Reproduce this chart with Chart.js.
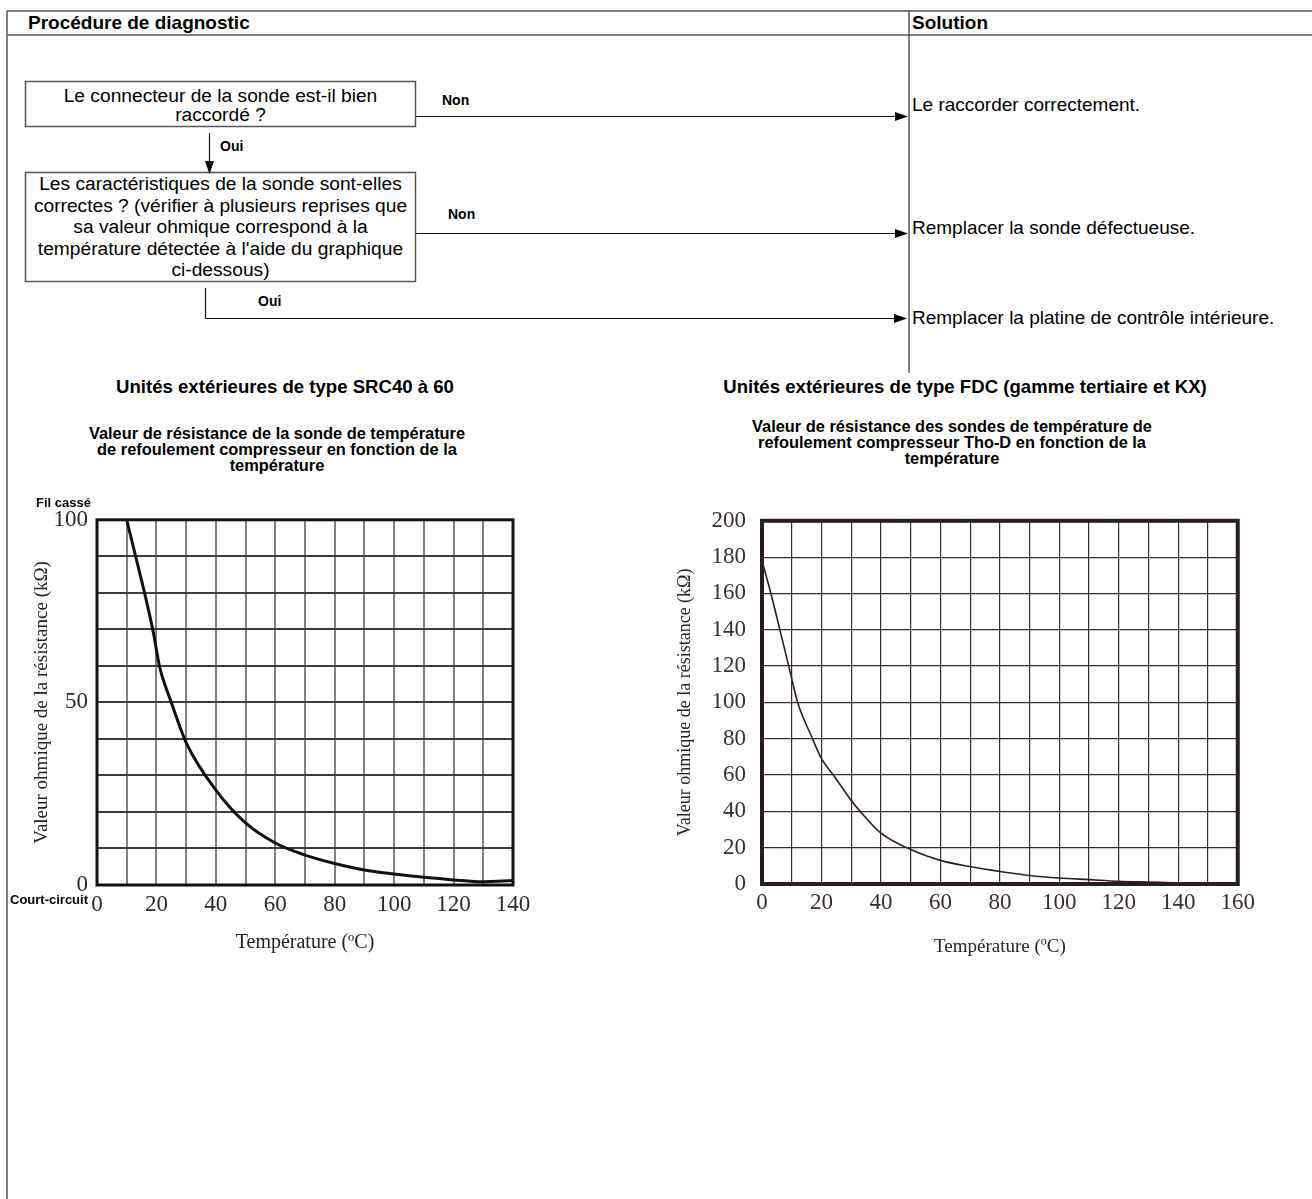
<!DOCTYPE html>
<html lang="fr">
<head>
<meta charset="utf-8">
<title>Procédure de diagnostic - sonde de refoulement</title>
<script src="https://cdn.jsdelivr.net/npm/chart.js@4.4.1/dist/chart.umd.min.js"></script>
<style>
  html, body { margin: 0; padding: 0; background: #fff; }
  body { width: 1312px; height: 1199px; position: relative; overflow: hidden;
         font-family: "Liberation Sans", Arial, sans-serif; color: #000; }
  .t { position: absolute; white-space: nowrap; }
  .reg { font-size: 19px; line-height: 20px; }
  .hdr { font-size: 19px; line-height: 20px; font-weight: bold; }
  .ttl { font-size: 18.6px; line-height: 20px; font-weight: bold; text-align: center; }
  .lbl { font-size: 14px; line-height: 16px; font-weight: bold; }
  .sub { font-size: 16.4px; line-height: 16px; font-weight: bold; text-align: center; }
  .tiny { font-size: 13px; line-height: 15px; font-weight: bold; }
  .box { position: absolute; text-align: center; white-space: nowrap; font-size: 19.2px; }
  canvas { position: absolute; }
</style>
</head>
<body>

<svg width="1312" height="1199" style="position:absolute;left:0;top:0">
  <g stroke="#555" stroke-width="1.5" fill="none">
    <line x1="7" y1="11" x2="1312" y2="11"/>
    <line x1="7" y1="11" x2="7" y2="1199"/>
    <line x1="7" y1="35" x2="1312" y2="35"/>
    <line x1="909" y1="11" x2="909" y2="373"/>
    <rect x="25.5" y="81.5" width="390" height="45"/>
    <rect x="25.5" y="172.5" width="390" height="109"/>
  </g>
  <g stroke="#111" stroke-width="1.2" fill="none">
    <line x1="416" y1="116.5" x2="897" y2="116.5"/>
    <line x1="416" y1="233.5" x2="897" y2="233.5"/>
    <line x1="205.5" y1="288" x2="205.5" y2="318.5"/>
    <line x1="205.5" y1="318.5" x2="896" y2="318.5"/>
    <line x1="209.5" y1="133" x2="209.5" y2="163"/>
  </g>
  <g fill="#000">
    <polygon points="908,116.5 895,112 895,121"/>
    <polygon points="908,233.5 895,229 895,238"/>
    <polygon points="907,318.5 894,314 894,323"/>
    <polygon points="209.5,174 205,161 214,161"/>
  </g>
</svg>

<div class="t hdr" style="left:28px;top:13px">Procédure de diagnostic</div>
<div class="t hdr" style="left:912px;top:13px">Solution</div>

<div class="box" style="left:25px;top:86px;width:391px;line-height:19px">Le connecteur de la sonde est-il bien<br>raccordé ?</div>
<div class="box" style="left:25px;top:173px;width:391px;line-height:21.5px">Les caractéristiques de la sonde sont-elles<br>correctes ? (vérifier à plusieurs reprises que<br>sa valeur ohmique correspond à la<br>température détectée à l'aide du graphique<br>ci-dessous)</div>

<div class="t lbl" style="left:442px;top:92px">Non</div>
<div class="t lbl" style="left:448px;top:206px">Non</div>
<div class="t lbl" style="left:220px;top:138px">Oui</div>
<div class="t lbl" style="left:258px;top:293px">Oui</div>

<div class="t reg" style="left:912px;top:95px">Le raccorder correctement.</div>
<div class="t reg" style="left:912px;top:218px">Remplacer la sonde défectueuse.</div>
<div class="t reg" style="left:912px;top:308px">Remplacer la platine de contrôle intérieure.</div>

<div class="t ttl" style="left:0;width:570px;top:377px">Unités extérieures de type SRC40 à 60</div>
<div class="t ttl" style="left:715px;width:500px;top:377px">Unités extérieures de type FDC (gamme tertiaire et KX)</div>

<div class="t sub" style="left:77px;width:400px;top:425px">Valeur de résistance de la sonde de température<br>de refoulement compresseur en fonction de la<br>température</div>
<div class="t sub" style="left:752px;width:400px;top:418px">Valeur de résistance des sondes de température de<br>refoulement compresseur Tho-D en fonction de la<br>température</div>

<canvas id="srcChart" width="540" height="463" style="left:0;top:497px;width:540px;height:463px"></canvas>
<canvas id="fdcChart" width="600" height="479" style="left:660px;top:491px;width:600px;height:479px"></canvas>

<div class="t tiny" style="left:36px;top:495px">Fil cassé</div>
<div class="t tiny" style="left:10px;top:892px">Court-circuit</div>

<script>
// SRC40 à 60 : résistance (kΩ) en fonction de la température (°C)
const srcTemps = [10, 13, 16, 19, 21, 25, 30, 40, 50, 60, 70, 80, 90, 100, 110, 120, 130, 140];
const srcValues = [100, 90, 80, 69, 60, 50, 39, 26, 17, 11.5, 8.2, 5.9, 4.1, 3.0, 2.1, 1.4, 0.9, 1.2];
const srcTempTicks = [0, 20, 40, 60, 80, 100, 120, 140];
const srcValueTicks = [0, 50, 100];

// FDC (gamme tertiaire et KX) : sonde Tho-D
const fdcTemps = [0, 3, 6, 9, 12, 17, 20, 24, 30, 33, 40, 50, 60, 70, 80, 90, 100, 110, 120, 130, 140, 150];
const fdcValues = [178, 160, 140, 120, 100, 80, 69, 60, 46, 40, 28, 19, 13, 9.6, 6.9, 4.7, 3.3, 2.4, 1.5, 1.1, 0.7, 0.7];
const fdcTempTicks = [0, 20, 40, 60, 80, 100, 120, 140, 160];
const fdcValueTicks = [0, 20, 40, 60, 80, 100, 120, 140, 160, 180, 200];

const serif = '"Liberation Serif", "Times New Roman", serif';

// thick box round the plot area
const frame = {
    id: 'frame',
    afterDraw(chart, args, opts) {
        const { ctx, chartArea: a } = chart;
        ctx.save();
        ctx.strokeStyle = opts.color;
        ctx.lineWidth = opts.width;
        ctx.strokeRect(a.left, a.top, a.right - a.left, a.bottom - a.top);
        ctx.restore();
    }
};

const toPoints = (xs, ys) => xs.map((x, i) => ({ x: x, y: ys[i] }));

new Chart(document.getElementById('srcChart').getContext('2d'), {
    type: 'line',
    data: {
        datasets: [{
            data: toPoints(srcTemps, srcValues),
            borderColor: '#111',
            borderWidth: 3,
            pointRadius: 0,
            fill: false,
            cubicInterpolationMode: 'monotone'
        }]
    },
    options: {
        responsive: false,
        animation: false,
        layout: { padding: { top: 18, right: 27, left: 0, bottom: 0 } },
        plugins: {
            legend: { display: false },
            tooltip: { enabled: false },
            frame: { color: '#111', width: 3 }
        },
        scales: {
            x: {
                type: 'linear',
                min: 0,
                max: 140,
                afterFit: s => { s.height = 75; },
                border: { display: false },
                grid: { color: '#808080', lineWidth: 2, drawTicks: false },
                ticks: {
                    stepSize: 10, autoSkip: false, maxRotation: 0, padding: 6,
                    color: '#2a2a2a', font: { family: serif, size: 23 },
                    callback: v => srcTempTicks.includes(v) ? String(v) : ''
                },
                title: {
                    display: true, text: 'Température (ºC)', color: '#222',
                    font: { family: serif, size: 20 }, padding: { top: 0, bottom: 5 }
                }
            },
            y: {
                min: 0,
                max: 100,
                afterFit: s => { s.width = 97; },
                border: { display: false },
                grid: { color: '#3c3c3c', lineWidth: 2, drawTicks: false },
                ticks: {
                    stepSize: 10, autoSkip: false, padding: 9,
                    color: '#2a2a2a', font: { family: serif, size: 23 },
                    callback: v => srcValueTicks.includes(v) ? String(v) : ''
                },
                title: {
                    display: true, text: 'Valeur ohmique de la résistance (kΩ)', color: '#222',
                    font: { family: serif, size: 19 }, padding: { top: 31, bottom: 0 }
                }
            }
        }
    },
    plugins: [frame]
});

new Chart(document.getElementById('fdcChart').getContext('2d'), {
    type: 'line',
    data: {
        datasets: [{
            data: toPoints(fdcTemps, fdcValues),
            borderColor: '#2a2020',
            borderWidth: 1.6,
            pointRadius: 0,
            fill: false,
            cubicInterpolationMode: 'monotone'
        }]
    },
    options: {
        responsive: false,
        animation: false,
        layout: { padding: { top: 11, right: 18, left: 0, bottom: 0 } },
        plugins: {
            legend: { display: false },
            tooltip: { enabled: false },
            frame: { color: '#2b1d1d', width: 4 }
        },
        scales: {
            x: {
                type: 'linear',
                min: 0,
                max: 160,
                afterFit: s => { s.height = 86; },
                border: { display: false },
                grid: { color: '#3a2c2c', lineWidth: 1.2, drawTicks: false },
                ticks: {
                    stepSize: 10, autoSkip: false, maxRotation: 0, padding: 5,
                    color: '#3a2e2e', font: { family: serif, size: 23 },
                    callback: v => fdcTempTicks.includes(v) ? String(v) : ''
                },
                title: {
                    display: true, text: 'Température (ºC)', color: '#2a2222',
                    font: { family: serif, size: 19 }, padding: { top: 0, bottom: 12 }
                }
            },
            y: {
                min: 0,
                max: 200,
                afterFit: s => { s.width = 102; },
                border: { display: false },
                grid: { color: '#3a2c2c', lineWidth: 1.2, drawTicks: false },
                ticks: {
                    stepSize: 20, autoSkip: false, padding: 16,
                    color: '#3a2e2e', font: { family: serif, size: 23 },
                    callback: v => fdcValueTicks.includes(v) ? String(v) : ''
                },
                title: {
                    display: true, text: 'Valeur ohmique de la résistance (kΩ)', color: '#2a2222',
                    font: { family: serif, size: 18 }, padding: { top: 14, bottom: 0 }
                }
            }
        }
    },
    plugins: [frame]
});
</script>
</body>
</html>
